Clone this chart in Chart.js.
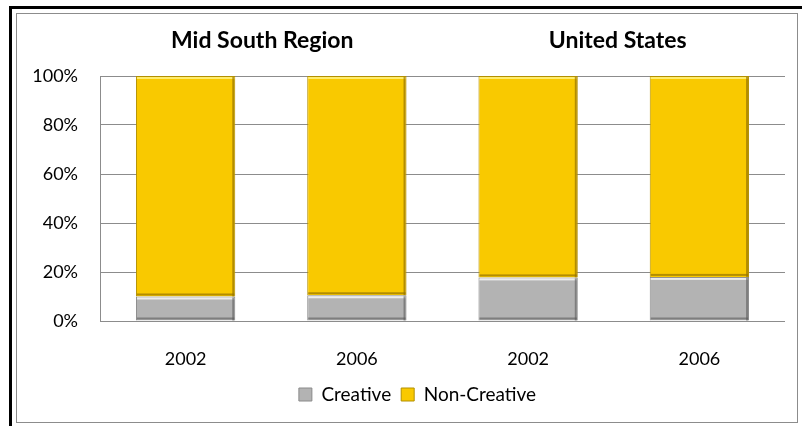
<!DOCTYPE html>
<html>
<head>
<meta charset="utf-8">
<script src="https://cdn.jsdelivr.net/npm/chart.js@4.4.1/dist/chart.umd.min.js"></script>
<style>
html,body{margin:0;padding:0;background:#fff;}
#wrap{position:relative;width:802px;height:426px;overflow:hidden;}
canvas{position:absolute;left:0;top:0;}
</style>
</head>
<body>
<div id="wrap"><canvas id="c" width="802" height="426"></canvas></div>
<script>
const categories = ['2002', '2006', '2002', '2006'];
const groupTitles = ['Mid South Region', 'United States'];
const creative = [10, 10.5, 17.8, 18];
const nonCreative = [90, 89.5, 82.2, 82];
const yTicks = [0, 20, 40, 60, 80, 100];

const frame = {
  id: 'frame',
  afterLayout(chart) {
    if (chart.legend) { chart.legend.left += 25; chart.legend.right += 25; }
  },
  beforeDraw(chart) {
    const ctx = chart.ctx;
    ctx.save();
    ctx.fillStyle = '#fff';
    ctx.fillRect(0, 0, chart.width, chart.height);
    ctx.strokeStyle = '#000';
    ctx.lineWidth = 3;
    ctx.strokeRect(10.5, 7.5, 900, 600);
    ctx.strokeStyle = '#8c8c8c';
    ctx.lineWidth = 1;
    ctx.strokeRect(16.5, 13.5, 781, 409);
    ctx.restore();
  },
  afterDatasetsDraw(chart) {
    const ctx = chart.ctx;
    ctx.save();
    chart.data.datasets.forEach((ds, di) => {
      const hi = di === 0 ? 'rgba(255,255,255,0.75)' : 'rgba(255,240,120,0.9)';
      const lo = di === 0 ? 'rgba(90,90,90,0.6)' : 'rgba(150,115,0,0.7)';
      chart.getDatasetMeta(di).data.forEach(bar => {
        const l = bar.x - bar.width / 2, r = bar.x + bar.width / 2;
        const t = Math.min(bar.y, bar.base), b = Math.max(bar.y, bar.base);
        ctx.fillStyle = hi;
        ctx.fillRect(l + 1, t + 1, r - l - 2, 2);
        ctx.fillStyle = lo;
        ctx.fillRect(r - 3, t + 1, 2, b - t - 1);
        ctx.fillRect(l + 1, b - 3, r - l - 2, 2);
      });
    });
    ctx.restore();
  },
  afterDraw(chart) {
    const ctx = chart.ctx;
    const x = chart.scales.x;
    ctx.save();
    ctx.fillStyle = '#000';
    ctx.font = 'bold 23px Lato';
    ctx.textAlign = 'center';
    ctx.textBaseline = 'middle';
    const c1 = (x.getPixelForValue(0) + x.getPixelForValue(1)) / 2 - 9;
    const c2 = (x.getPixelForValue(2) + x.getPixelForValue(3)) / 2 + 4;
    ctx.fillText(groupTitles[0], c1, 41);
    ctx.fillText(groupTitles[1], c2, 41);
    ctx.restore();
  }
};

new Chart(document.getElementById('c'), {
  type: 'bar',
  data: {
    labels: categories,
    datasets: [
      { label: 'Creative', data: creative, backgroundColor: '#b3b3b3', borderColor: '#8a8a8a', borderWidth: 1 },
      { label: 'Non-Creative', data: nonCreative, backgroundColor: '#f9c900', borderColor: '#b39000', borderWidth: 1 }
    ]
  },
  options: {
    responsive: false,
    animation: false,
    devicePixelRatio: 1,
    layout: { padding: { left: 0, right: 17, top: 76, bottom: 12 } },
    datasets: { bar: { categoryPercentage: 1, barPercentage: 0.58 } },
    scales: {
      x: {
        stacked: true,
        grid: { display: false, drawTicks: false },
        border: { display: false },
        afterFit(scale) { scale.height = 54; },
        ticks: { color: '#000', font: { family: 'Lato', size: 18 }, padding: 27 }
      },
      y: {
        stacked: true,
        min: 0, max: 100,
        afterBuildTicks(scale) { scale.ticks = yTicks.map(v => ({ value: v })); },
        afterFit(scale) { scale.width = 100; },
        grid: { color: '#8c8c8c', drawTicks: false },
        border: { display: true, color: '#8c8c8c' },
        ticks: { color: '#000', font: { family: 'Lato', size: 18 }, padding: 22, callback: v => v + '%' }
      }
    },
    plugins: {
      legend: {
        position: 'bottom',
        labels: { color: '#000', font: { family: 'Lato', size: 19 }, boxWidth: 13, boxHeight: 13, padding: 10 }
      },
      tooltip: { enabled: false }
    }
  },
  plugins: [frame]
});
</script>
</body>
</html>
